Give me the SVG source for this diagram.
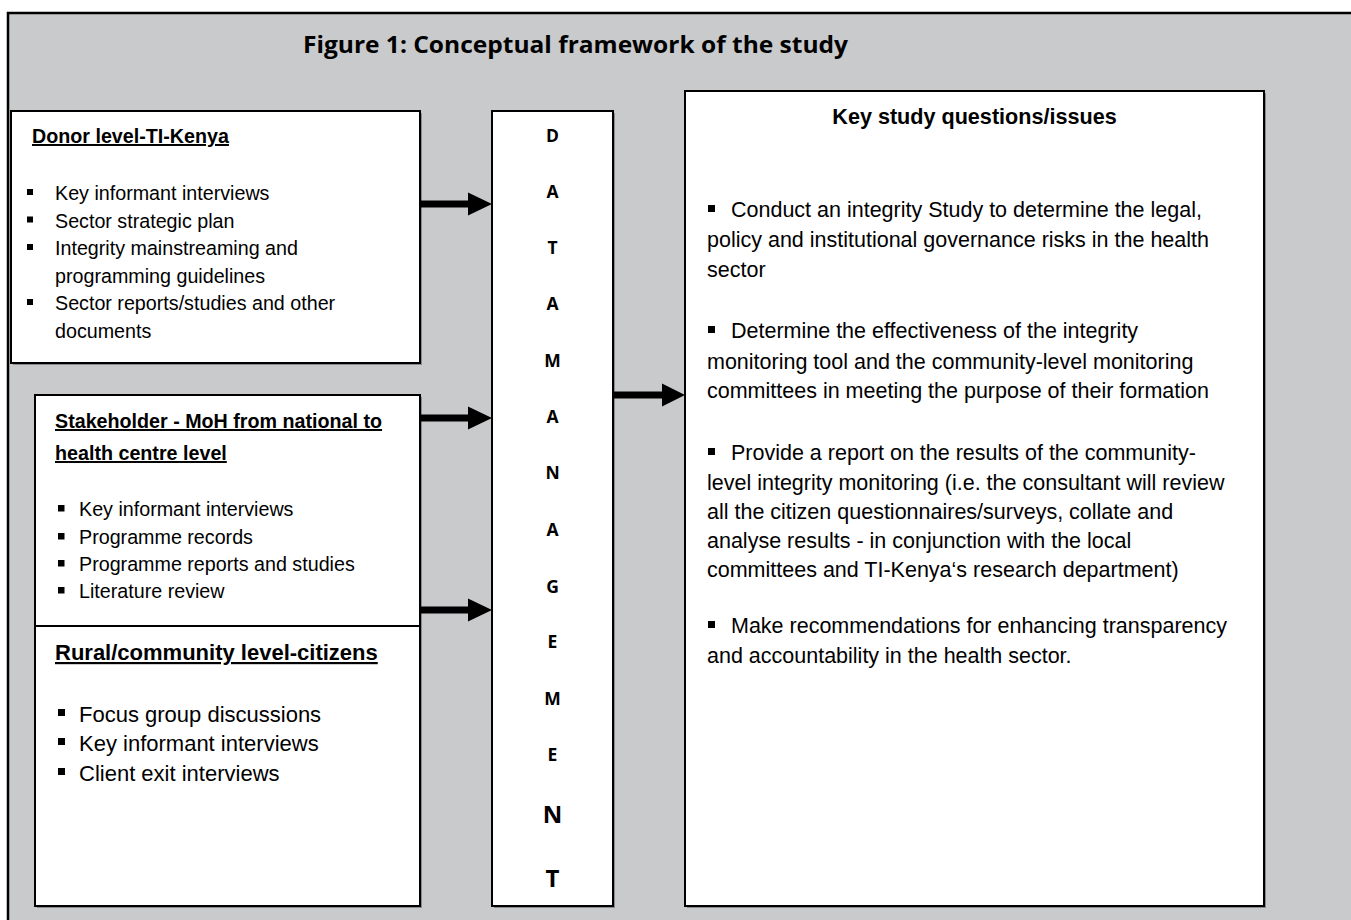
<svg xmlns="http://www.w3.org/2000/svg" width="1351" height="920" viewBox="0 0 1351 920">
  <style>
    .frame { fill: #c9cacc; stroke: #000; stroke-width: 2.5; }
    .box { fill: #ffffff; stroke: #000; stroke-width: 2; }
    .shadow { fill: #8a8a8a; }
    .t { font-family: "Liberation Sans", Arial, sans-serif; fill: #000; }
    .lb { font-size: 19.7px; }
    .lh { font-size: 19.7px; font-weight: bold; text-decoration: underline; }
    .rh { font-size: 22px; font-weight: bold; text-decoration: underline; }
    .rb { font-size: 22px; }
    .qb { font-size: 21.5px; }
    .qh { font-size: 21.6px; font-weight: bold; }
    .dm { font-family: "Open Sans", Lato, sans-serif; font-weight: bold; font-size: 17.5px; fill: #000; text-anchor: middle; }
    .dmL { font-size: 24px; }
    .title { font-family: "Open Sans", Lato, sans-serif; font-weight: bold; font-size: 24px; fill: #000; }
    .bul { fill: #000; }
    .arrow { fill: #000; }
  </style>

  <rect class="frame" x="8" y="13" width="1360" height="920"/>

  <text class="title" x="303" y="53" textLength="545" lengthAdjust="spacingAndGlyphs">Figure 1: Conceptual framework of the study</text>

  <g id="donor">
    <rect class="shadow" x="13" y="113" width="409" height="252"/>
    <rect class="box" x="11" y="111" width="409" height="252"/>
    <text class="t lh" x="32" y="143">Donor level-TI-Kenya</text>
    <rect class="bul" x="27" y="189" width="6" height="6"/>
    <text class="t lb" x="55" y="200">Key informant interviews</text>
    <rect class="bul" x="27" y="216.5" width="6" height="6"/>
    <text class="t lb" x="55" y="227.5">Sector strategic plan</text>
    <rect class="bul" x="27" y="244" width="6" height="6"/>
    <text class="t lb" x="55" y="255">Integrity mainstreaming and</text>
    <text class="t lb" x="55" y="282.5">programming guidelines</text>
    <rect class="bul" x="27" y="299" width="6" height="6"/>
    <text class="t lb" x="55" y="310">Sector reports/studies and other</text>
    <text class="t lb" x="55" y="337.5">documents</text>
  </g>

  <g id="stakeholder">
    <rect class="shadow" x="37" y="397" width="385" height="231"/>
    <rect class="box" x="35" y="395" width="385" height="231"/>
    <text class="t lh" x="55" y="428">Stakeholder - MoH from national to</text>
    <text class="t lh" x="55" y="460">health centre level</text>
    <rect class="bul" x="58" y="505" width="6.5" height="6.5"/>
    <text class="t lb" x="79" y="516">Key informant interviews</text>
    <rect class="bul" x="58" y="533" width="6.5" height="6.5"/>
    <text class="t lb" x="79" y="544">Programme records</text>
    <rect class="bul" x="58" y="560" width="6.5" height="6.5"/>
    <text class="t lb" x="79" y="571">Programme reports and studies</text>
    <rect class="bul" x="58" y="587" width="6.5" height="6.5"/>
    <text class="t lb" x="79" y="598">Literature review</text>
  </g>

  <g id="rural">
    <rect class="shadow" x="37" y="628" width="385" height="280"/>
    <rect class="box" x="35" y="626" width="385" height="280"/>
    <text class="t rh" x="55" y="660">Rural/community level-citizens</text>
    <rect class="bul" x="58" y="709" width="7" height="7"/>
    <text class="t rb" x="79" y="722">Focus group discussions</text>
    <rect class="bul" x="58" y="738" width="7" height="7"/>
    <text class="t rb" x="79" y="751">Key informant interviews</text>
    <rect class="bul" x="58" y="768" width="7" height="7"/>
    <text class="t rb" x="79" y="781">Client exit interviews</text>
  </g>

  <g id="data-management">
    <rect class="shadow" x="494" y="113" width="121" height="795"/>
    <rect class="box" x="492" y="111" width="121" height="795"/>
    <text class="dm" x="552.5" y="142">D</text>
    <text class="dm" x="552.5" y="198">A</text>
    <text class="dm" x="552.5" y="254">T</text>
    <text class="dm" x="552.5" y="310">A</text>
    <text class="dm" x="552.5" y="367">M</text>
    <text class="dm" x="552.5" y="423">A</text>
    <text class="dm" x="552.5" y="479">N</text>
    <text class="dm" x="552.5" y="536">A</text>
    <text class="dm" x="552.5" y="593">G</text>
    <text class="dm" x="552.5" y="648">E</text>
    <text class="dm" x="552.5" y="705">M</text>
    <text class="dm" x="552.5" y="761">E</text>
    <text class="dm dmL" x="552.5" y="823">N</text>
    <text class="dm dmL" x="552.5" y="887">T</text>
  </g>

  <g id="key-questions">
    <rect class="shadow" x="687" y="93" width="579" height="815"/>
    <rect class="box" x="685" y="91" width="579" height="815"/>
    <text class="t qh" x="974.5" y="124" text-anchor="middle">Key study questions/issues</text>
    <rect class="bul" x="708" y="205" width="7" height="7"/>
    <text class="t qb" x="731" y="217">Conduct an integrity Study to determine the legal,</text>
    <text class="t qb" x="707" y="247">policy and institutional governance risks in the health</text>
    <text class="t qb" x="707" y="277">sector</text>
    <rect class="bul" x="708" y="326" width="7" height="7"/>
    <text class="t qb" x="731" y="338">Determine the effectiveness of the integrity</text>
    <text class="t qb" x="707" y="368.5">monitoring tool and the community-level monitoring</text>
    <text class="t qb" x="707" y="398">committees in meeting the purpose of their formation</text>
    <rect class="bul" x="708" y="448" width="7" height="7"/>
    <text class="t qb" x="731" y="460">Provide a report on the results of the community-</text>
    <text class="t qb" x="707" y="489.5">level integrity monitoring (i.e. the consultant will review</text>
    <text class="t qb" x="707" y="518.5">all the citizen questionnaires/surveys, collate and</text>
    <text class="t qb" x="707" y="548">analyse results - in conjunction with the local</text>
    <text class="t qb" x="707" y="577">committees and TI-Kenya‘s research department)</text>
    <rect class="bul" x="708" y="621" width="7" height="7"/>
    <text class="t qb" x="731" y="633">Make recommendations for enhancing transparency</text>
    <text class="t qb" x="707" y="662.5">and accountability in the health sector.</text>
  </g>

  <g id="connectors">
    <path class="arrow" d="M421,200.5 H468 V192.5 L492,204 L468,215.5 V207.5 H421 Z"/>
    <path class="arrow" d="M421,414.5 H468 V406.5 L492,418 L468,429.5 V421.5 H421 Z"/>
    <path class="arrow" d="M421,606.5 H468 V598.5 L492,610 L468,621.5 V613.5 H421 Z"/>
    <path class="arrow" d="M614,391.5 H662 V383.5 L685,395 L662,406.5 V398.5 H614 Z"/>
  </g>
</svg>
